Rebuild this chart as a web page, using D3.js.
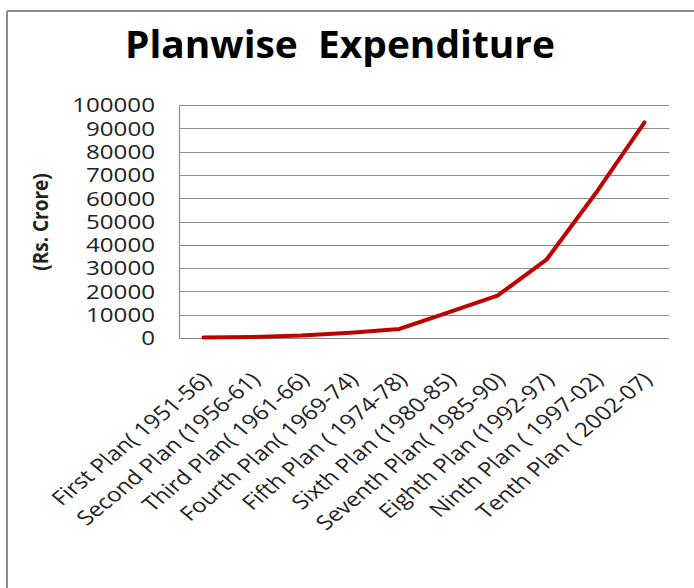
<!DOCTYPE html>
<html>
<head>
<meta charset="utf-8">
<script src="https://cdn.jsdelivr.net/npm/d3@7"></script>
<style>
  body { margin: 0; background: #fff; }
  svg { display: block; font-family: "Open Sans", sans-serif; }
</style>
</head>
<body>
<svg id="chart"></svg>
<script>
const plans = [
  "First Plan( 1951-56)",
  "Second Plan (1956-61)",
  "Third Plan( 1961-66)",
  "Fourth Plan( 1969-74)",
  "Fifth Plan ( 1974-78)",
  "Sixth Plan (1980-85)",
  "Seventh Plan( 1985-90)",
  "Eighth Plan (1992-97)",
  "Ninth Plan ( 1997-02)",
  "Tenth Plan ( 2002-07)"
];
const expenditure = [250, 450, 1100, 2300, 3900, 11000, 18200, 33600, 62000, 92500];
const yTicks = [0, 10000, 20000, 30000, 40000, 50000, 60000, 70000, 80000, 90000, 100000];

const width = 694, height = 588;
const margin = {top: 105, right: 25, bottom: 250, left: 179};

const svg = d3.select("#chart")
  .attr("width", width)
  .attr("height", height);

// outer frame (only top and left edges show)
svg.append("line")
  .attr("x1", 7).attr("x2", width).attr("y1", 11).attr("y2", 11)
  .attr("stroke", "#8c8c8c").attr("stroke-width", 2);
svg.append("line")
  .attr("x1", 7).attr("x2", 7).attr("y1", 11).attr("y2", height)
  .attr("stroke", "#8c8c8c").attr("stroke-width", 2);

const x = d3.scaleBand()
  .domain(plans)
  .range([margin.left, width - margin.right]);

const y = d3.scaleLinear()
  .domain([0, 100000])
  .range([height - margin.bottom, margin.top]);

// gridlines
svg.append("g")
  .selectAll("line")
  .data(yTicks)
  .enter()
  .append("line")
  .attr("x1", margin.left)
  .attr("x2", width - margin.right)
  .attr("y1", d => Math.round(y(d)) + 0.5)
  .attr("y2", d => Math.round(y(d)) + 0.5)
  .attr("stroke", "#8c8c8c")
  .attr("stroke-width", 1.2);

// left axis line
svg.append("line")
  .attr("x1", margin.left + 0.5).attr("x2", margin.left + 0.5)
  .attr("y1", y(100000)).attr("y2", y(0))
  .attr("stroke", "#8c8c8c")
  .attr("stroke-width", 1.2);

// y tick labels (stretched a bit, like the source)
svg.append("g")
  .selectAll("text")
  .data(yTicks)
  .enter()
  .append("text")
  .attr("x", 155)
  .attr("y", d => y(d))
  .attr("dy", "0.36em")
  .attr("text-anchor", "end")
  .attr("font-size", 20.5)
  .attr("textLength", d => String(d).length * 13.8)
  .attr("lengthAdjust", "spacingAndGlyphs")
  .attr("fill", "#222")
  .text(d => d);

// y axis title
svg.append("text")
  .attr("transform", "translate(48,222) scale(1.1,1) rotate(-90)")
  .attr("text-anchor", "middle")
  .attr("font-size", 19)
  .attr("font-weight", "bold")
  .attr("fill", "#222")
  .text("(Rs. Crore)");

// x labels
svg.append("g")
  .selectAll("text")
  .data(plans)
  .enter()
  .append("text")
  .attr("transform", d => `translate(${x(d) + x.bandwidth() / 2 + 9},381) scale(1.2,1) rotate(-45)`)
  .attr("text-anchor", "end")
  .attr("font-size", 20)
  .attr("fill", "#222")
  .text(d => d);

// title
svg.append("text")
  .attr("x", 340)
  .attr("y", 58)
  .attr("text-anchor", "middle")
  .attr("font-size", 38)
  .attr("font-weight", "bold")
  .attr("textLength", 430)
  .attr("lengthAdjust", "spacingAndGlyphs")
  .attr("fill", "#000")
  .style("white-space", "pre")
  .text("Planwise  Expenditure");

const line = d3.line()
  .x((d, i) => x(plans[i]) + x.bandwidth() / 2)
  .y(d => y(d));

svg.append("path")
  .datum(expenditure)
  .attr("fill", "none")
  .attr("stroke", "#c00000")
  .attr("stroke-width", 4)
  .attr("stroke-linejoin", "round")
  .attr("stroke-linecap", "round")
  .attr("d", line);
</script>
</body>
</html>
